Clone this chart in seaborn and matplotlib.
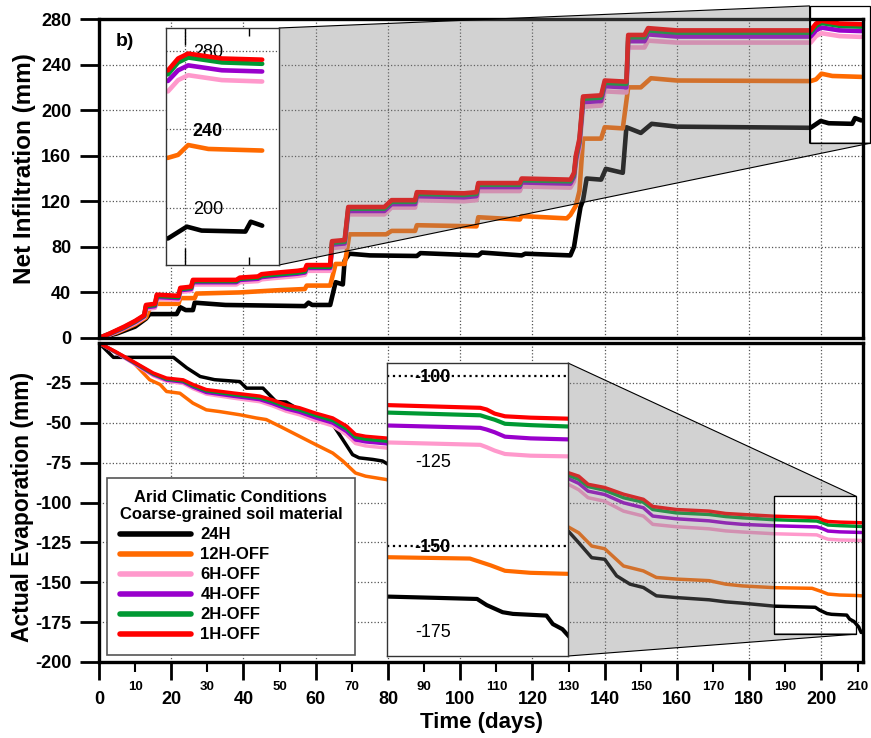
import numpy as np
import pandas as pd
import matplotlib
matplotlib.use("Agg")
import matplotlib.pyplot as plt
from matplotlib.patches import Polygon, Rectangle
import seaborn as sns

cases = ["24H", "12H-OFF", "6H-OFF", "4H-OFF", "2H-OFF", "1H-OFF"]
colors = {"24H": "#000000", "12H-OFF": "#ff6a00", "6H-OFF": "#ff99cc",
          "4H-OFF": "#9900cc", "2H-OFF": "#009933", "1H-OFF": "#ff0000"}

# ---- net infiltration (mm) ----
inf_days_wet = [0, 3, 7, 10, 12.5, 13, 15.5, 16, 22, 22.5, 25.5, 26, 38, 39, 44, 45, 48, 55, 57, 57.5,
                64, 64.5, 68, 69, 79, 81, 87.5, 88, 101, 104.5, 105, 116.5, 117, 130.5, 131.5, 132,
                133, 134, 139, 140, 146, 146.5, 151, 152, 160, 197, 198.5, 200, 205, 211]
inf_1h = [0, 4, 10, 15, 20, 29, 30, 38, 37, 44, 45, 51, 51, 53, 54, 56, 57, 59, 60, 64, 64, 85, 86,
          115, 115, 121, 121, 128, 127, 128, 136, 136, 140, 139, 145, 160, 175, 212, 213, 226, 225,
          266, 266, 272, 270, 270, 276, 278.5, 276, 275.4]
inf_2h = [0, 3.8, 9.5, 14.5, 19.5, 28, 29, 37, 36, 43, 44, 50, 50, 52, 53, 54.5, 55.5, 57.5, 58.5,
          62.5, 62.5, 83.5, 84.5, 113.5, 113.5, 119.5, 119.5, 126.5, 125.5, 126.5, 134.5, 134.5,
          138.5, 137.5, 143.5, 158, 173, 210, 211, 224, 223, 264, 264, 270, 268, 268, 274, 276.5,
          274, 273.3]
inf_4h = [0, 3.5, 9, 14, 19, 27, 28, 36, 35, 42, 43, 49, 49, 51, 52, 53.5, 54.5, 56.5, 57.5, 61.5,
          61.5, 82, 83, 111.5, 111.5, 117.5, 117.5, 124.5, 123.5, 124.5, 132.5, 132.5, 136.5, 135.5,
          141.5, 156, 171, 207, 208, 221, 220, 260.5, 260.5, 266.5, 264.6, 264.6, 270, 272.5, 270,
          269.4]
inf_6h = [0, 3, 8.5, 13, 18, 25.5, 26.5, 34.5, 33.5, 40.5, 41.5, 47, 47, 49, 50, 51.5, 52.5, 54.5,
          55.5, 59, 59, 79, 80, 108.5, 108.5, 114.5, 114.5, 121, 120, 121, 129, 129, 133, 132,
          137.5, 152, 167, 203, 204, 216.5, 215.5, 255, 255, 261, 259.3, 259.3, 265, 267.5, 265,
          264.3]
inf_days_12h = [0, 5, 10, 13, 14, 16, 22, 22.5, 26.5, 27, 39, 50, 57, 57.5, 64, 65.5, 68, 68.5, 69.3,
                79.5, 81, 87.5, 88, 104.5, 105, 116.5, 117, 129.5, 130.5, 132, 133, 134, 139, 140,
                145, 146, 146.5, 150, 152.8, 160, 197, 198.5, 200, 203, 211]
inf_12h = [0, 5, 12, 18, 26, 30, 30, 35, 35, 39, 40, 42, 43, 46, 46, 65, 65, 74, 91, 91, 94, 94, 99,
           98, 106, 104, 107, 105, 108, 116, 129, 175, 175, 185, 184, 208, 220, 220, 228, 226,
           225.5, 227, 232, 230, 229.2]
inf_days_24h = [0, 5, 10, 13, 14, 21.5, 22.5, 24, 26, 26.5, 35, 57, 58, 59, 64, 65.5, 67.5, 68, 69.3,
                75, 88, 89, 105, 106, 117, 118, 130.5, 131.5, 132.5, 133.3, 134, 135, 139, 140.3,
                145, 146, 150, 153, 160, 197, 199.8, 202, 208.5, 209.3, 211]
inf_24h = [0, 4, 10, 17, 21, 21, 27, 24.5, 24.5, 31, 29, 28, 31, 29, 29, 49, 47, 68, 74, 72.5, 72,
           74.5, 72.5, 75, 72.5, 74, 72.5, 80, 100, 115, 121, 140, 139, 148.5, 145, 185, 180, 188,
           185.5, 184.5, 190.5, 188.5, 188, 193, 191]

# ---- actual evaporation (mm) ----
ev_days_wet = [0, 4.6, 9.4, 15, 18.7, 23.3, 26, 29.7, 37, 44.5, 48, 51.8, 55.5, 60, 64.7, 68.5, 71,
               73.8, 79.5, 90, 100, 110, 120, 129.5, 132.8, 135.4, 140, 145.2, 150.7, 153.3, 159.8,
               168.9, 173.5, 178.1, 187, 198.7, 199.5, 200.5, 201.8, 205, 209.7, 211]
ev_1h = [0, -5.4, -11.5, -18.8, -22, -23.1, -26, -29.2, -31.3, -33.3, -35.6, -38.8, -40.6, -44, -47,
         -52, -57.3, -58.5, -59.6, -64, -69, -73, -77, -81, -83.5, -88.6, -90.6, -94.8, -98, -102.5,
         -104.4, -105.4, -106.9, -107.5, -108.6, -109.4, -109.9, -111.1, -111.9, -112.3, -112.6,
         -112.7]
ev_2h = [0, -5.6, -11.8, -19.3, -22.6, -23.8, -26.8, -30, -32.3, -34.4, -36.8, -40, -42, -45.5,
         -48.6, -53.8, -59, -60.3, -61.5, -66, -71, -75.5, -79.5, -82.5, -85.5, -90, -92.3, -97,
         -99.8, -104.4, -106.5, -107.5, -108.8, -109.6, -110.8, -111.6, -112.2, -112.9, -114.1,
         -114.5, -114.9, -115]
ev_4h = [0, -5.8, -12.2, -19.8, -23.2, -24.5, -27.6, -31, -33.3, -35.5, -38, -41.3, -43.4, -47,
         -50.2, -55.5, -60.8, -62, -63.2, -68, -73.5, -78, -82, -84.6, -88, -92.9, -95, -100.2,
         -103.3, -108.5, -110.2, -111.5, -112.8, -113.7, -114.6, -115.3, -115.8, -116.6, -117.9,
         -118.4, -118.7, -118.8]
ev_6h = [0, -6, -12.6, -20.5, -24, -25.4, -28.6, -32, -34.5, -36.8, -39.4, -42.8, -45, -48.7, -52,
         -57.5, -63, -64.5, -65.8, -71, -77, -82, -86, -88.1, -92, -97, -99.2, -105.4, -108.5,
         -113.7, -115.2, -116.5, -117.8, -118.5, -119.6, -120.3, -121, -122, -123, -123.5, -123.7,
         -123.8]
ev_days_12h = [0, 9.4, 14, 16.9, 18.7, 22.4, 26, 29.7, 33.4, 39, 43.5, 46.3, 51, 55.5, 60, 64.7,
               67.5, 71, 73.8, 79.5, 90, 100, 110, 120, 129.5, 132.8, 136.4, 140, 145.2, 150.7,
               154.3, 159.8, 168.9, 173.5, 178.1, 187, 197.4, 198.7, 200, 201.8, 205, 209.7, 211]
ev_12h = [0, -12, -23, -26, -30.4, -31.5, -37.7, -41.9, -43, -45, -47, -48, -53.3, -58.5, -63.7,
          -69, -74, -81.5, -83.5, -85.6, -92, -99, -105, -110, -114.8, -119, -127.3, -129, -139.8,
          -142.9, -147, -148, -149, -151.2, -152.3, -153.4, -153.8, -154.8, -155.8, -157.4, -158,
          -158.3, -158.5]
ev_days_24h = [0, 4, 20.6, 24.3, 28, 32, 39, 40.8, 45.4, 47.2, 49, 51.8, 55.5, 60, 63.8, 65, 67.5,
               70.2, 72, 75.8, 78.5, 80, 90, 100, 110, 120, 129.5, 132.8, 136.4, 140, 143.3, 147,
               150.7, 154.3, 159.8, 168.9, 173.5, 178.1, 187, 193.6, 198.3, 199.5, 201.5, 202.8,
               207, 207.8, 209, 210.3, 211]
ev_24h = [0, -9, -9, -15.6, -21, -23, -24.2, -28.3, -28.3, -32.5, -36.7, -37, -41.9, -46, -49.2,
          -52, -60.6, -70, -72, -73, -74, -76, -82, -90, -97, -105, -116.9, -125.2, -134.6, -135.6,
          -146, -151.2, -153.3, -158.5, -159.6, -161, -162.3, -163.1, -165, -165.4, -165.7, -167.5,
          -169.6, -170.1, -170.6, -173.1, -174.6, -178, -181.5]


def long_frame(series):
    parts = []
    for name, (days, vals) in series.items():
        parts.append(pd.DataFrame({"day": days, "mm": vals, "case": name}))
    return pd.concat(parts, ignore_index=True)


inf_df = long_frame({
    "24H": (inf_days_24h, inf_24h), "12H-OFF": (inf_days_12h, inf_12h),
    "6H-OFF": (inf_days_wet, inf_6h), "4H-OFF": (inf_days_wet, inf_4h),
    "2H-OFF": (inf_days_wet, inf_2h), "1H-OFF": (inf_days_wet, inf_1h)})
ev_df = long_frame({
    "24H": (ev_days_24h, ev_24h), "12H-OFF": (ev_days_12h, ev_12h),
    "6H-OFF": (ev_days_wet, ev_6h), "4H-OFF": (ev_days_wet, ev_4h),
    "2H-OFF": (ev_days_wet, ev_2h), "1H-OFF": (ev_days_wet, ev_1h)})

sns.set_style("white")
plt.rcParams["font.family"] = ["Liberation Sans", "DejaVu Sans"]
plt.rcParams["font.weight"] = "bold"
plt.rcParams["axes.labelweight"] = "bold"
plt.rcParams["axes.unicode_minus"] = False
for key in ("text.color", "axes.labelcolor", "xtick.color", "ytick.color"):
    plt.rcParams[key] = "black"

W, H = 871, 738
fig = plt.figure(figsize=(W / 100, H / 100), dpi=100)


def box(x0, y0, x1, y1):
    # pixel box (top-left origin) -> figure fraction
    return [x0 / W, 1 - y1 / H, (x1 - x0) / W, (y1 - y0) / H]


ax1 = fig.add_axes(box(99, 19, 863, 338))
ax2 = fig.add_axes(box(99, 343, 863, 662))

grid_kw = dict(color="#555555", linestyle=":", linewidth=0.9)


def draw(ax, df, lw):
    sns.lineplot(data=df, x="day", y="mm", hue="case", hue_order=cases, palette=colors,
                 estimator=None, sort=False, linewidth=lw, legend=False, ax=ax)
    ax.set_xlabel("")
    ax.set_ylabel("")


for ax in (ax1, ax2):
    ax.set_xlim(0, 211.5)
    ax.set_axisbelow(True)
    for s in ax.spines.values():
        s.set_linewidth(2.4)
        s.set_color("black")
    ax.set_xticks(np.arange(0, 201, 20))
    ax.grid(True, which="major", **grid_kw)
    ax.tick_params(axis="y", direction="out", length=14, width=2, labelsize=13, pad=6,
                   left=True)

draw(ax1, inf_df, 3.3)
draw(ax2, ev_df, 2.5)

ax1.set_ylim(0, 280)
ax1.set_yticks(np.arange(0, 281, 40))
ax1.tick_params(axis="x", length=0, labelbottom=False)
ax1.set_ylabel("Net Infiltration (mm)", fontsize=17.5)
ax1.yaxis.set_label_coords(-0.083, 0.53)
ax1.text(0.022, 0.93, "b)", transform=ax1.transAxes, fontsize=14, fontweight="bold",
         va="center", ha="left")

ax2.set_ylim(-200, 0)
ax2.set_yticks(np.arange(-200, 0, 25))
ax2.set_xticks(np.arange(10, 211, 20), minor=True)
ax2.set_xticklabels([str(v) for v in range(0, 201, 20)])
ax2.set_xticklabels([str(v) for v in range(10, 211, 20)], minor=True)
ax2.tick_params(axis="x", which="major", direction="out", length=13, width=2, labelsize=13,
                pad=8, bottom=True)
ax2.tick_params(axis="x", which="minor", direction="out", length=7, width=1.5, labelsize=9.5,
                pad=7, bottom=True)
ax2.set_xlabel("Time (days)", fontsize=16, labelpad=3)
ax2.set_ylabel("Actual Evaporation (mm)", fontsize=16.5)
ax2.yaxis.set_label_coords(-0.085, 0.486)

leg = ax2.legend(handles=ax2.lines[:6], labels=cases, loc="lower left",
                 bbox_to_anchor=(0.0105, 0.022), borderaxespad=0, fontsize=12,
                 title="Arid Climatic Conditions\nCoarse-grained soil material",
                 title_fontproperties={"weight": "bold", "size": 12},
                 handlelength=4.3, handletextpad=0.55, labelspacing=0.3,
                 frameon=True, fancybox=False, framealpha=1, edgecolor="#555555",
                 borderpad=0.75, alignment="left")
leg.get_frame().set_linewidth(1.2)
leg.get_title().set_multialignment("center")
for h in leg.legend_handles:
    h.set_linewidth(4)
leg.set_zorder(10)

# ---- insets ----
top_xlim, top_ylim = (196.7, 213.5), (171, 291.5)
bot_xlim, bot_ylim = (187, 209.7), (-182.5, -96.2)

ax1i = fig.add_axes(box(166, 28, 279, 265))
draw(ax1i, inf_df, 3.3)
ax1i.set_xlim(*top_xlim)
ax1i.set_ylim(*top_ylim)
ax1i.set_yticks([280, 240, 200])
ax1i.set_xticks([199.5])
ax1i.set_xticks([209], minor=True)
ax1i.tick_params(axis="y", direction="in", length=8, width=1, pad=-41, labelsize=13)
ax1i.tick_params(axis="x", which="both", direction="in", labelbottom=False, top=True,
                 bottom=True, width=1)
ax1i.tick_params(axis="x", which="major", length=12)
ax1i.tick_params(axis="x", which="minor", length=6)
ax1i.grid(True, **grid_kw)
for lbl in ax1i.get_yticklabels():
    lbl.set_fontweight("bold" if lbl.get_text() == "240" else "normal")
for s in ax1i.spines.values():
    s.set_linewidth(1)
    s.set_color("#333333")

ax2i = fig.add_axes(box(387, 363, 568, 656))
draw(ax2i, ev_df, 3)
ax2i.set_xlim(*bot_xlim)
ax2i.set_ylim(*bot_ylim)
ax2i.set_xticks([])
ax2i.set_yticks([-100, -125, -150, -175])
ax2i.tick_params(axis="y", direction="in", length=19, width=1, color="#333333", pad=-46,
                 labelsize=13)
ax2i.grid(True, axis="y", color="black", linestyle=":", linewidth=1.6)
for i, (gl, tk, lbl) in enumerate(zip(ax2i.get_ygridlines(), ax2i.yaxis.get_major_ticks(),
                                      ax2i.get_yticklabels())):
    if i % 2 == 1:
        gl.set_visible(False)
        lbl.set_fontweight("normal")
    else:
        tk.tick1line.set_visible(False)
        lbl.set_fontweight("bold")
for s in ax2i.spines.values():
    s.set_linewidth(1)
    s.set_color("#333333")

# ---- zoom connectors (shaded wedge between inset and marked region) ----
shade = (0.5, 0.5, 0.5, 0.35)


def wedge(ax, pts_disp):
    pts = ax.transData.inverted().transform(np.asarray(pts_disp))
    ax.add_patch(Polygon(pts, closed=True, facecolor=shade, edgecolor="black", linewidth=0.8,
                         clip_on=False, zorder=5))


tx0, tx1 = top_xlim
ty0, ty1 = top_ylim
wedge(ax1, [ax1i.transAxes.transform((1, 1)),
            ax1.transData.transform((tx0, ty1)),
            ax1.transData.transform((tx0, ty0)),
            ax1.transData.transform((tx1, ty0)),
            ax1i.transAxes.transform((1, 0))])
ax1.add_patch(Rectangle((tx0, ty0), tx1 - tx0, ty1 - ty0, fill=False, edgecolor="black",
                        linewidth=0.9, clip_on=False, zorder=5))

bx0, bx1 = bot_xlim
by0, by1 = bot_ylim
wedge(ax2, [ax2i.transAxes.transform((1, 1)),
            ax2.transData.transform((bx1, by1)),
            ax2.transData.transform((bx0, by1)),
            ax2.transData.transform((bx0, by0)),
            ax2.transData.transform((bx1, by0)),
            ax2i.transAxes.transform((1, 0))])
ax2.add_patch(Rectangle((bx0, by0), bx1 - bx0, by1 - by0, fill=False, edgecolor="black",
                        linewidth=0.9, clip_on=False, zorder=5))

fig.savefig("out.png", dpi=100)
